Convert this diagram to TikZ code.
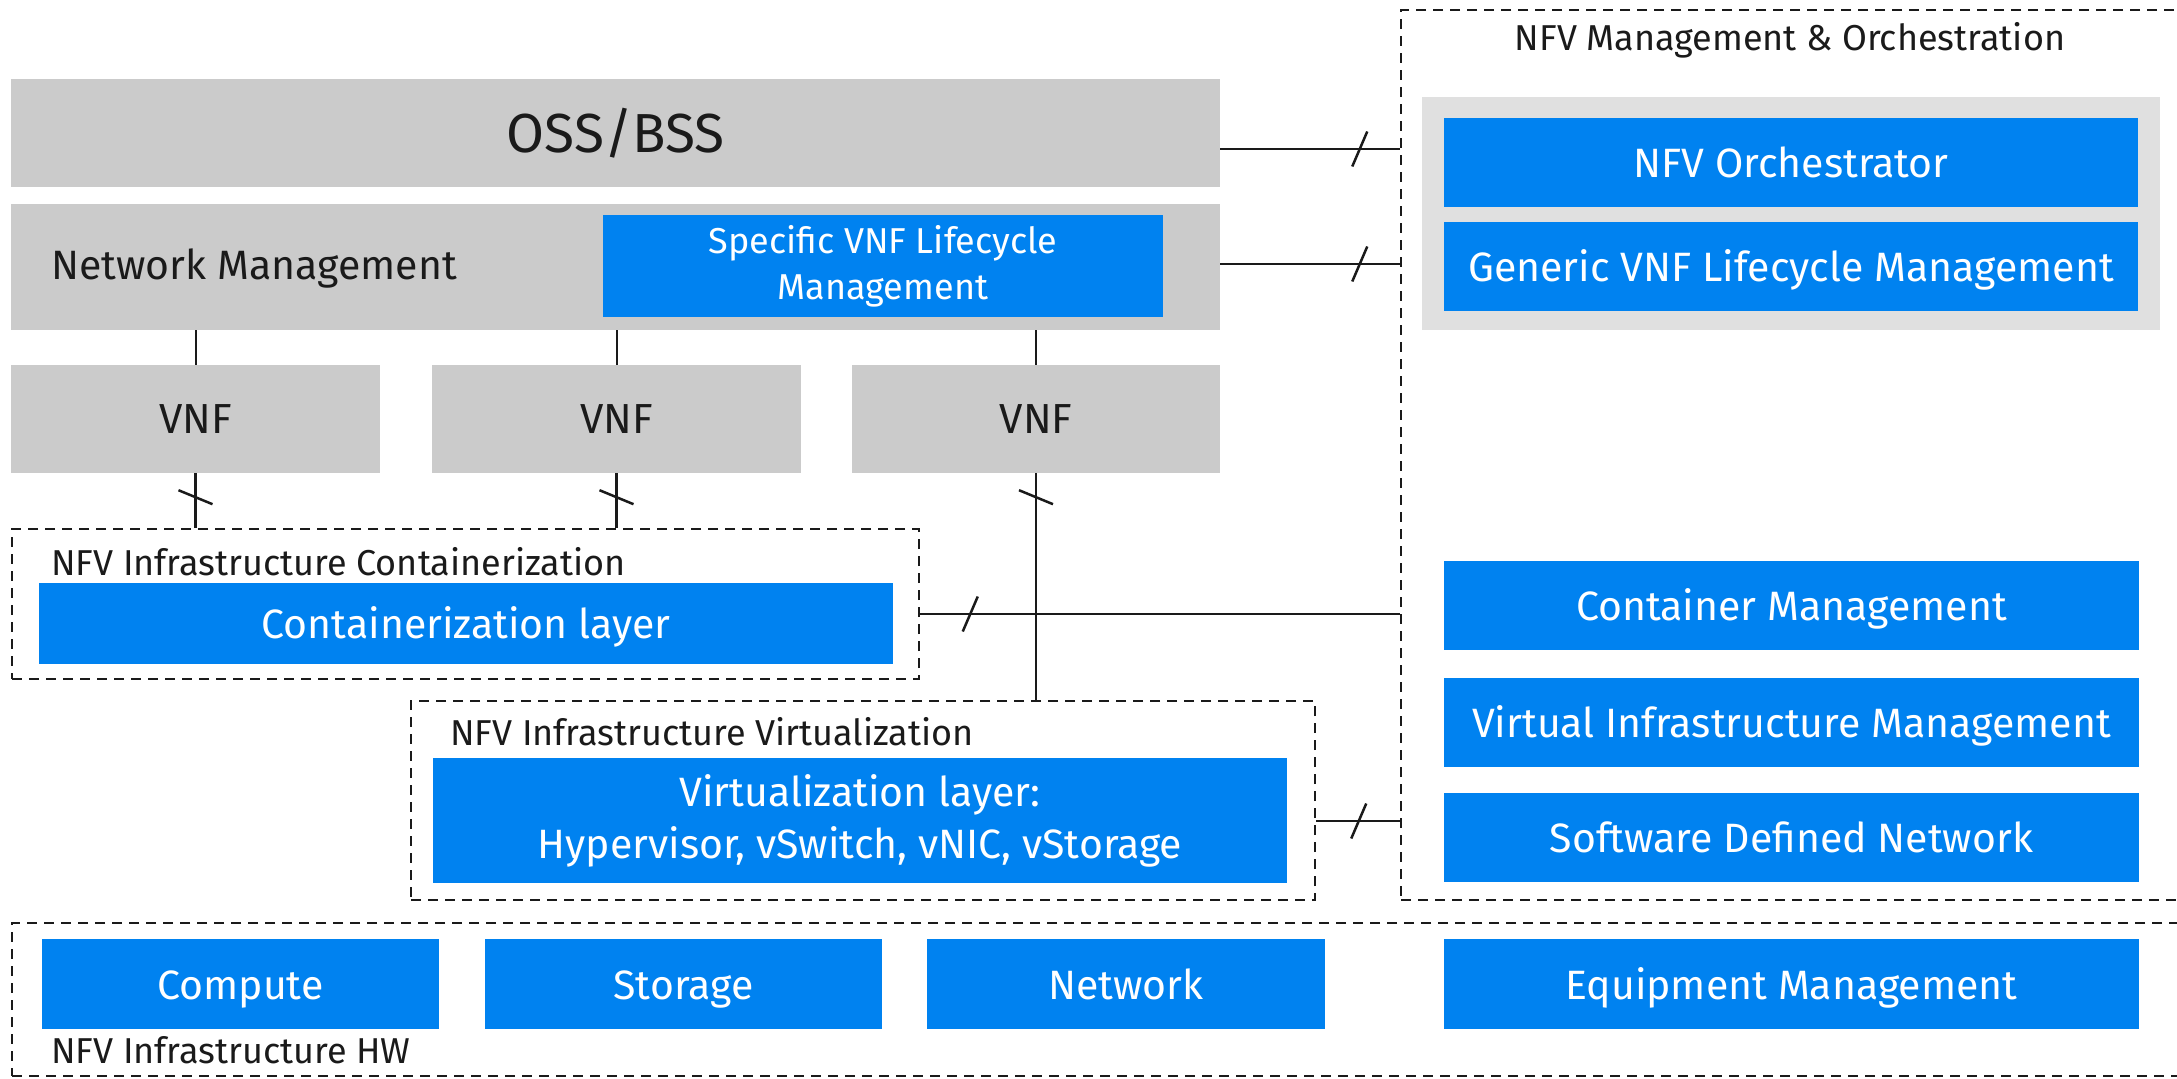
\documentclass[tikz,border=0pt]{standalone}
\usepackage{fontspec}
\setmainfont{Fira Sans}
\usetikzlibrary{calc}
\definecolor{nfvblue}{RGB}{0,130,240}
\definecolor{boxgrey}{RGB}{203,203,203}
\definecolor{panelgrey}{RGB}{224,224,224}
\definecolor{ink}{RGB}{26,26,26}
\tikzset{
  blk/.style={rectangle, inner sep=0pt, draw=none},
  greybox/.style={blk, fill=boxgrey, text=ink},
  bluebox/.style={blk, fill=nfvblue, text=white, align=center,
    font=\fontsize{41}{52}\selectfont},
  oneline/.style={bluebox, text height=30pt, text depth=0pt},
  frame/.style={draw=ink, line width=2.5pt, dash pattern=on 10pt off 7pt},
  label/.style={inner sep=0pt, anchor=west, text=ink, font=\fontsize{36}{40}\selectfont},
  link/.style={draw=ink, line width=2.5pt},
  thinlink/.style={draw=ink, line width=2pt},
  htick/.pic={\draw[ink, line width=2.5pt] (-7.5,17.5) -- (7.5,-17.5);},
  vtick/.pic={\draw[ink, line width=2.5pt] (-17,-7) -- (17,7);}
}
\begin{document}
\begin{tikzpicture}[x=1pt,y=-1pt]
\useasboundingbox (0,0) rectangle (2177,1079);
\clip (0,0) rectangle (2177,1079);

% ---- management side ----
\node[blk, frame, minimum width=800, minimum height=890] (mano) at (1801,455) {};
\node[label, anchor=center] (manolabel) at (1790,40) {NFV Management \& Orchestration};
\node[blk, fill=panelgrey, minimum width=738, minimum height=233] (panel) at (1791,213.5) {};
\node[oneline, minimum width=694, minimum height=89] (orch) at (1791,162.5) {NFV Orchestrator};
\node[oneline, minimum width=694, minimum height=89] (gvnfm) at (1791,266.5) {Generic VNF Lifecycle Management};
\node[oneline, minimum width=695, minimum height=89] (cmgmt) at (1791.5,605.5) {Container Management};
\node[oneline, minimum width=695, minimum height=89] (vim) at (1791.5,722) {Virtual Infrastructure Management};
\node[oneline, minimum width=695, minimum height=89] (sdn) at (1791.5,837.5) {Software Defined Network};

% ---- OSS/BSS and network management ----
\node[greybox, minimum width=1209, minimum height=108, font=\fontsize{55}{60}\selectfont] (oss) at (615.5,133) {OSS/BSS};
\node[greybox, minimum width=1209, minimum height=126] (nm) at (615.5,267) {};
\node[label, font=\fontsize{41}{46}\selectfont] (nmlabel) at (51,268) {Network Management};
\node[bluebox, minimum width=560, minimum height=102, font=\fontsize{36}{46}\selectfont] (svnfm) at (883,266) {Specific VNF Lifecycle\\Management};

% ---- VNFs ----
\node[greybox, minimum width=369, minimum height=108, font=\fontsize{42}{46}\selectfont] (vnf1) at (195.5,419) {VNF};
\node[greybox, minimum width=369, minimum height=108, font=\fontsize{42}{46}\selectfont] (vnf2) at (616.5,419) {VNF};
\node[greybox, minimum width=368, minimum height=108, font=\fontsize{42}{46}\selectfont] (vnf3) at (1036,419) {VNF};

% ---- containerization ----
\node[blk, frame, minimum width=907, minimum height=150] (contbox) at (465.5,604) {};
\node[label] (contlabel) at (51,562) {NFV Infrastructure Containerization};
\node[oneline, minimum width=854, minimum height=81] (contlayer) at (466,623.5) {Containerization layer};

% ---- virtualization ----
\node[blk, frame, minimum width=904, minimum height=199] (virtbox) at (863,800.5) {};
\node[label] (virtlabel) at (450,732) {NFV Infrastructure Virtualization};
\node[bluebox, minimum width=854, minimum height=125] (virtlayer) at (860,820.5) {Virtualization layer:\\Hypervisor, vSwitch, vNIC, vStorage};

% ---- hardware ----
\node[blk, frame, minimum width=2180, minimum height=153] (hwbox) at (1102,999.5) {};
\node[oneline, minimum width=397, minimum height=90] (compute) at (240.5,984) {Compute};
\node[oneline, minimum width=397, minimum height=90] (storage) at (683.5,984) {Storage};
\node[oneline, minimum width=398, minimum height=90] (network) at (1126,984) {Network};
\node[oneline, minimum width=695, minimum height=90] (equip) at (1791.5,984) {Equipment Management};
\node[label] (hwlabel) at (51,1050) {NFV Infrastructure HW};

% ---- connectors: management to VNFs ----
\draw[thinlink] (vnf1.north) -- (vnf1.north |- nm.south);
\draw[thinlink] (vnf2.north) -- (vnf2.north |- nm.south);
\draw[thinlink] (vnf3.north) -- (vnf3.north |- nm.south);

% ---- connectors: VNFs to infrastructure ----
\draw[link] (vnf1.south) -- (vnf1.south |- contbox.north);
\draw[link] (vnf2.south) -- (vnf2.south |- contbox.north);
\draw[link] (vnf3.south) -- (vnf3.south |- virtbox.north);
\pic at ($(vnf1.south)+(0,24)$) {vtick};
\pic at ($(vnf2.south)+(0,24)$) {vtick};
\pic at ($(vnf3.south)+(0,24)$) {vtick};

% ---- connectors: to management & orchestration ----
\coordinate (ossout) at ([yshift=-16pt]oss.east);
\coordinate (nmout) at ([yshift=3pt]nm.east);
\coordinate (contout) at ([yshift=-10pt]contbox.east);
\coordinate (virtout) at ([yshift=-20.5pt]virtbox.east);
\draw[link] (ossout) -- (ossout -| mano.west);
\draw[link] (nmout) -- (nmout -| mano.west);
\draw[link] (contout) -- (contout -| mano.west);
\draw[link] (virtout) -- (virtout -| mano.west);
\pic at ($(ossout -| mano.west)+(-40,0)$) {htick};
\pic at ($(nmout -| mano.west)+(-40,0)$) {htick};
\pic at ($(contout)+(50,0)$) {htick};
\pic at ($(virtout -| mano.west)+(-41,0)$) {htick};
\end{tikzpicture}
\end{document}
